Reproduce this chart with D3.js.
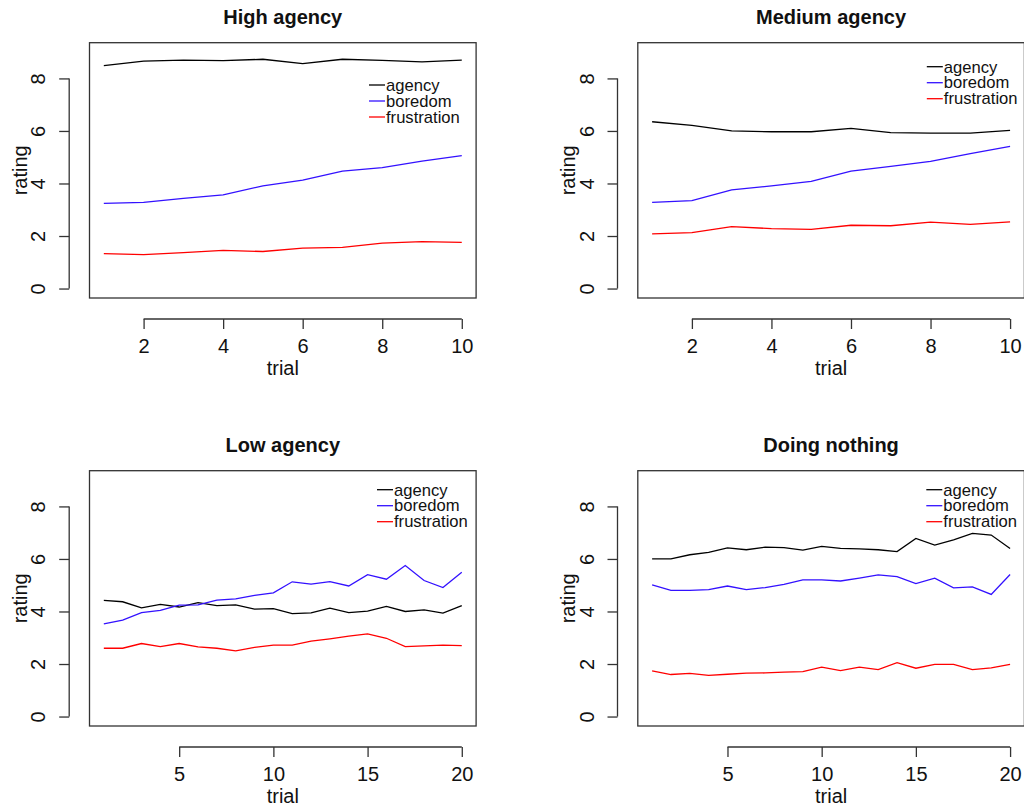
<!DOCTYPE html>
<html>
<head>
<meta charset="utf-8">
<script src="https://cdn.jsdelivr.net/npm/d3@7"></script>
<style>
  body { margin: 0; background: #fff; }
  svg { font-family: "Liberation Sans", Arial, Helvetica, sans-serif; }
</style>
</head>
<body>
<svg width="1024" height="806"></svg>
<script>
//Data
var panelTitles = ['High agency', 'Medium agency', 'Low agency', 'Doing nothing'];
var seriesNames = ['agency', 'boredom', 'frustration'];
var seriesColors = ['#000000', '#3311ff', '#ff0000'];
var yTicks = [0, 2, 4, 6, 8];
var xTicksShort = [2, 4, 6, 8, 10];
var xTicksLong = [5, 10, 15, 20];

var highAgency = [8.49, 8.66, 8.70, 8.68, 8.73, 8.56, 8.73, 8.69, 8.63, 8.70];
var highBoredom = [3.24, 3.28, 3.43, 3.57, 3.91, 4.13, 4.47, 4.60, 4.85, 5.06];
var highFrustration = [1.33, 1.29, 1.37, 1.45, 1.41, 1.54, 1.57, 1.73, 1.79, 1.76];

var medAgency = [6.35, 6.21, 6.00, 5.97, 5.97, 6.10, 5.94, 5.92, 5.92, 6.02];
var medBoredom = [3.28, 3.35, 3.76, 3.91, 4.08, 4.47, 4.65, 4.84, 5.14, 5.41];
var medFrustration = [2.08, 2.13, 2.36, 2.28, 2.25, 2.41, 2.39, 2.53, 2.44, 2.54];

var lowAgency = [4.42, 4.37, 4.14, 4.27, 4.17, 4.34, 4.22, 4.25, 4.09, 4.11,
                 3.92, 3.95, 4.13, 3.96, 4.01, 4.19, 4.00, 4.06, 3.94, 4.22];
var lowBoredom = [3.53, 3.67, 3.96, 4.04, 4.24, 4.25, 4.43, 4.48, 4.61, 4.71,
                  5.13, 5.04, 5.14, 4.97, 5.40, 5.23, 5.75, 5.18, 4.91, 5.49];
var lowFrustration = [2.60, 2.60, 2.78, 2.66, 2.78, 2.65, 2.60, 2.50, 2.63, 2.72,
                      2.72, 2.87, 2.96, 3.06, 3.15, 2.98, 2.66, 2.69, 2.72, 2.70];

var nothingAgency = [6.00, 6.00, 6.16, 6.25, 6.42, 6.35, 6.45, 6.43, 6.34, 6.48,
                     6.40, 6.38, 6.35, 6.28, 6.78, 6.53, 6.73, 6.97, 6.91, 6.40];
var nothingBoredom = [5.01, 4.80, 4.80, 4.83, 4.97, 4.83, 4.91, 5.03, 5.20, 5.20,
                      5.16, 5.27, 5.39, 5.33, 5.06, 5.27, 4.90, 4.94, 4.65, 5.41];
var nothingFrustration = [1.74, 1.60, 1.64, 1.57, 1.61, 1.65, 1.66, 1.69, 1.71, 1.88,
                          1.75, 1.88, 1.79, 2.05, 1.84, 1.99, 1.99, 1.79, 1.85, 1.99];

var panelSeries = [
    [highAgency, highBoredom, highFrustration],
    [medAgency, medBoredom, medFrustration],
    [lowAgency, lowBoredom, lowFrustration],
    [nothingAgency, nothingBoredom, nothingFrustration]
];
var panelXTicks = [xTicksShort, xTicksShort, xTicksLong, xTicksLong];

//SVG Parameters
var svg = d3.select('svg');
//plot box positions (left, top) for each panel, box size shared
var boxes = [
    {l: 89.5, t: 42.7},
    {l: 637.8, t: 42.7},
    {l: 89.5, t: 470.7},
    {l: 637.8, t: 470.7}
];
var boxW = 386.6;
var boxH = 255.3;
//legend offsets inside the box
var legendPos = [
    {x: 279.5, y: 42.3},
    {x: 289, y: 24},
    {x: 287.5, y: 19},
    {x: 288.5, y: 19}
];
var axisFont = 20;

var yMin = 0, yMax = 9;

panelTitles.forEach(function(title, p) {
    var b = boxes[p];
    var series = panelSeries[p];
    var n = series[0].length;
    var pad = 0.04 * (n - 1);
    var ypad = 0.04 * (yMax - yMin);

    var xScale = d3.scaleLinear().domain([1 - pad, n + pad]).range([0, boxW]);
    var yScale = d3.scaleLinear().domain([yMin - ypad, yMax + ypad]).range([boxH, 0]);

    var g = svg.append('g')
        .attr('transform', 'translate(' + [b.l, b.t] + ')');

    //box
    g.append('rect')
        .attr('width', boxW)
        .attr('height', boxH)
        .attr('fill', 'none')
        .attr('stroke', '#333')
        .attr('stroke-width', 1.3);

    //lines
    var line = d3.line()
        .x(function(d, i) { return xScale(i + 1); })
        .y(function(d) { return yScale(d); });
    series.forEach(function(vals, s) {
        g.append('path')
            .datum(vals)
            .attr('d', line)
            .attr('fill', 'none')
            .attr('stroke', seriesColors[s])
            .attr('stroke-width', 1.3);
    });

    //x axis
    var xTicks = panelXTicks[p];
    var xAxisG = g.append('g')
        .attr('class', 'x axis')
        .attr('transform', 'translate(' + [0, boxH + 21] + ')')
        .call(d3.axisBottom(xScale).tickValues(xTicks).tickSize(10).tickPadding(12).tickSizeOuter(0));
    xAxisG.select('.domain')
        .attr('d', 'M' + xScale(xTicks[0]) + ',0H' + xScale(xTicks[xTicks.length - 1]));

    //y axis
    var yAxisG = g.append('g')
        .attr('class', 'y axis')
        .attr('transform', 'translate(' + [-20.3, 0] + ')')
        .call(d3.axisLeft(yScale).tickValues(yTicks).tickSize(10).tickSizeOuter(0));
    yAxisG.select('.domain')
        .attr('d', 'M0,' + yScale(yTicks[0]) + 'V' + yScale(yTicks[yTicks.length - 1]));
    yAxisG.selectAll('.tick text')
        .attr('x', null)
        .attr('dy', null)
        .attr('text-anchor', 'middle')
        .attr('dominant-baseline', 'central')
        .attr('transform', 'translate(-31,0)rotate(-90)');

    g.selectAll('.axis path, .axis line')
        .attr('stroke', '#333')
        .attr('stroke-width', 1.3);
    g.selectAll('.axis text')
        .attr('font-size', axisFont)
        .attr('font-family', 'Liberation Sans, Arial, sans-serif')
        .attr('fill', '#111');
    xAxisG.selectAll('.tick text').attr('dy', '0.6em');

    //axis titles
    g.append('text')
        .attr('transform', 'translate(' + [boxW / 2, boxH + 77] + ')')
        .attr('text-anchor', 'middle')
        .attr('font-size', axisFont)
        .attr('fill', '#111')
        .text('trial');
    g.append('text')
        .attr('transform', 'translate(' + [-63, boxH / 2] + ')rotate(270)')
        .attr('text-anchor', 'middle')
        .attr('font-size', axisFont)
        .attr('fill', '#111')
        .text('rating');

    //title
    g.append('text')
        .attr('x', boxW / 2)
        .attr('y', -19)
        .attr('text-anchor', 'middle')
        .attr('font-size', 20)
        .attr('font-weight', 'bold')
        .attr('fill', '#111')
        .text(title);

    //legend
    var lp = legendPos[p];
    var leg = g.append('g')
        .attr('transform', 'translate(' + [lp.x, lp.y] + ')');
    seriesNames.forEach(function(name, s) {
        leg.append('line')
            .attr('x1', 0)
            .attr('x2', 16)
            .attr('y1', s * 16)
            .attr('y2', s * 16)
            .attr('stroke', seriesColors[s])
            .attr('stroke-width', 1.3);
        leg.append('text')
            .attr('x', 17)
            .attr('y', s * 16)
            .attr('dy', '0.35em')
            .attr('font-size', 16.6)
            .attr('fill', '#111')
            .text(name);
    });
});
</script>
</body>
</html>
